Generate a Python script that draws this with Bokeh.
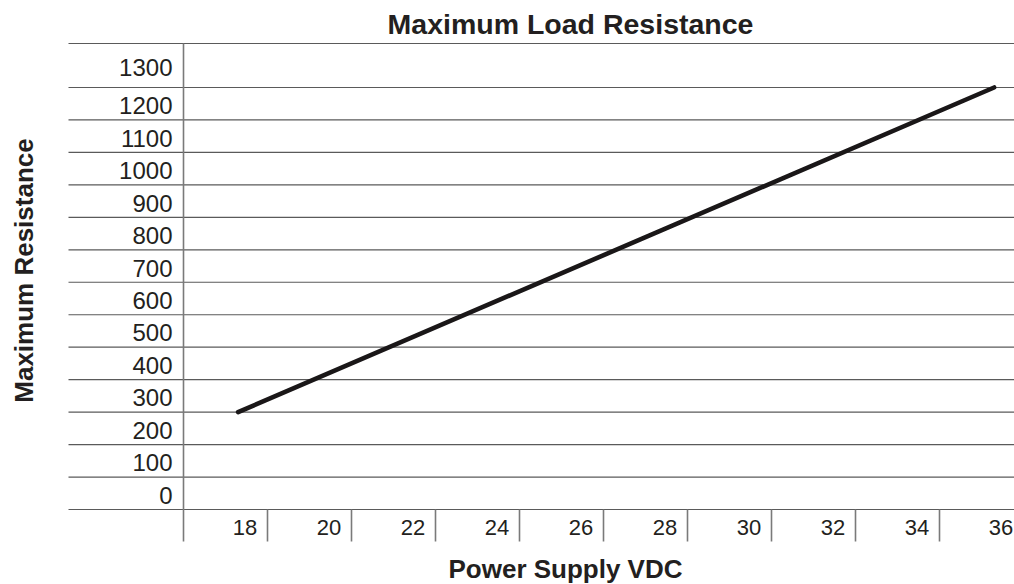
from bokeh.plotting import figure
from bokeh.models import Range1d, ColumnDataSource
from bokeh.core.properties import value
from bokeh.embed import file_html
from bokeh.resources import INLINE
import math

# ---- data ----
title_text = "Maximum Load Resistance"
x_title = "Power Supply VDC"
y_title = "Maximum Resistance"

x_ticks = [18, 20, 22, 24, 26, 28, 30, 32, 34, 36]
x_tick_labels = ["18", "20", "22", "24", "26", "28", "30", "32", "34", "36"]
y_ticks = [0, 100, 200, 300, 400, 500, 600, 700, 800, 900, 1000, 1100, 1200, 1300]
y_tick_labels = ["0", "100", "200", "300", "400", "500", "600", "700", "800",
                 "900", "1000", "1100", "1200", "1300"]

volts = [17.8, 35.8]
resistance = [300, 1300]

# ---- layout (image pixel geometry -> data units) ----
W, H, M = 1014, 584, 0
PX_PER_VOLT = 42.0
PX_PER_OHM = 0.32462
X0_PX, Y0_PX = 246.0, 509.0   # pixel of (18 V) and (0 ohm)


def xv(px):
    return 18 + (px - X0_PX) / PX_PER_VOLT


def yv(py):
    return (Y0_PX - py) / PX_PER_OHM


p = figure(width=W, height=H,
           x_range=Range1d(xv(M), xv(M + W)),
           y_range=Range1d(yv(M + H), yv(M)),
           x_axis_type=None, y_axis_type=None,
           toolbar_location=None, output_backend="svg",
           min_border=0, outline_line_color=None,
           background_fill_color="white", border_fill_color="white")

grid_col = "#5a5a5a"
text_col = "#231f20"
font = value("Liberation Sans")

top_border = yv(43)
table_left = xv(68)
table_right = xv(1030)
col_half = 1.5  # column spans [tick-1.5, tick+0.5]
bottom_ext = yv(541)

# horizontal rules
h_y = y_ticks + [top_border]
p.segment(x0=[table_left] * len(h_y), x1=[table_right] * len(h_y),
          y0=h_y, y1=h_y, line_color=grid_col, line_width=1.2)

# main vertical rule
p.segment(x0=[x_ticks[0] - col_half], x1=[x_ticks[0] - col_half],
          y0=[bottom_ext], y1=[top_border], line_color="#7a7a7a", line_width=1.6)

# column separators below the table
sep_x = [t + 0.5 for t in x_ticks]
p.segment(x0=sep_x, x1=sep_x, y0=[bottom_ext] * len(sep_x), y1=[y_ticks[0]] * len(sep_x),
          line_color="#7a7a7a", line_width=1.6)

# y tick labels centred in their rows
row_tops = y_ticks[1:] + [top_border]
ylab_y = [(b + t) / 2 for b, t in zip(y_ticks, row_tops)]
p.text(x=[x_ticks[0] - col_half] * len(y_ticks), y=ylab_y, text=y_tick_labels,
       x_offset=-11, y_offset=2, text_align="right", text_baseline="middle",
       text_font=font, text_font_size="24px", text_color=text_col)

# x tick labels
p.text(x=x_ticks, y=[yv(527)] * len(x_ticks), text=x_tick_labels,
       x_offset=-1.5, text_align="center", text_baseline="middle",
       text_font=font, text_font_size="22px", text_color=text_col)

# data line
src = ColumnDataSource(dict(v=volts, r=resistance))
p.line("v", "r", source=src, line_color="#1a1718", line_width=4.6, line_cap="round")

# titles
p.text(x=[xv(570)], y=[yv(23)], text=[title_text], text_align="center",
       text_baseline="middle", text_font=font, text_font_style="bold",
       text_font_size="28.5px", text_color=text_col)
p.text(x=[xv(565)], y=[yv(568)], text=[x_title], text_align="center",
       text_baseline="middle", text_font=font, text_font_style="bold",
       text_font_size="26px", text_color=text_col)
p.text(x=[xv(23)], y=[yv(270)], text=[y_title], angle=math.pi / 2,
       text_align="center", text_baseline="middle", text_font=font,
       text_font_style="bold", text_font_size="26px", text_color=text_col)

open("out.html", "w").write(file_html(p, INLINE))
